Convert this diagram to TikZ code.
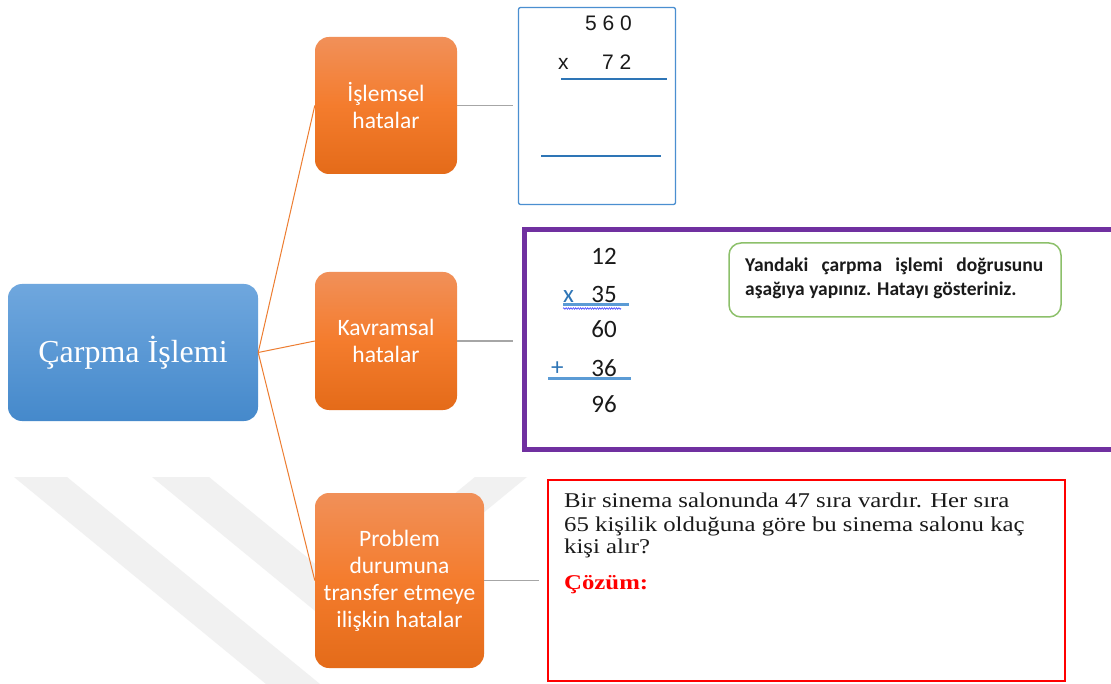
\documentclass[tikz,border=0pt]{standalone}
\usepackage{fontspec}
\setmainfont{Liberation Serif}
\newfontfamily\calibri{Carlito}
\newfontfamily\arialf{Liberation Sans}
\newfontfamily\timesw[FakeStretch=1.18]{Liberation Serif}
\usetikzlibrary{decorations.pathmorphing}

\definecolor{orTop}{HTML}{F19059}
\definecolor{orMid}{HTML}{F47C2D}
\definecolor{orBot}{HTML}{E46B19}
\definecolor{blTop}{HTML}{6FA7DE}
\definecolor{blBot}{HTML}{4589CB}
\definecolor{link}{HTML}{ED7D31}
\definecolor{grayline}{HTML}{A6A6A6}
\definecolor{frameblue}{HTML}{4A8FD0}
\definecolor{rulecol}{HTML}{2E75B6}
\definecolor{ulcol}{HTML}{5B9BD5}
\definecolor{purp}{HTML}{7030A0}
\definecolor{grn}{HTML}{8CC06A}
\definecolor{wm}{HTML}{F1F1F1}
\definecolor{ink}{HTML}{1A1A1A}

\tikzset{
  rootbox/.style={rounded corners=14pt, top color=blTop, bottom color=blBot,
    minimum width=250pt, minimum height=137pt, text=white,
    font=\fontsize{32}{38}\selectfont},
  catbox/.style={rounded corners=14pt, top color=orTop, bottom color=orBot,
    middle color=orMid, text=white, align=center, inner sep=0pt,
    font=\calibri\fontsize{23.5}{27}\selectfont},
  branch/.style={link, line width=1pt},
  leader/.style={grayline, line width=1.1pt},
  frame/.style={inner sep=0pt},
  digA/.style={font=\arialf\fontsize{21}{25}\selectfont, text=ink, inner sep=0pt},
  digC/.style={font=\calibri\fontsize{25}{30}\selectfont, text=ink, inner sep=0pt},
  opC/.style={font=\calibri\fontsize{25}{30}\selectfont, text=rulecol, inner sep=0pt},
  noteC/.style={font=\calibri\bfseries\fontsize{19.5}{24}\selectfont, text=ink, inner sep=0pt},
  probT/.style={font=\timesw\fontsize{21}{23}\selectfont, text=ink, inner sep=0pt},
}

\begin{document}
\begin{tikzpicture}[x=1pt, y=-1pt]
\useasboundingbox (0,0) rectangle (1111,684);
\fill[white] (0,0) rectangle (1111,684);

% faint background chevrons
\fill[wm] (14,477) -- (67,477) -- (320,684) -- (266,684) -- cycle;
\fill[wm] (152,477) -- (209,477) -- (342,586) -- (475,477) -- (527,477) -- (339.5,631) -- cycle;

% root and category boxes
\node[rootbox] (root) at (133,352.5) {Çarpma İşlemi};
\node[catbox, minimum width=142pt, minimum height=137pt] (c1) at (386,105.5) {İşlemsel\\hatalar};
\node[catbox, minimum width=142pt, minimum height=138pt] (c2) at (386,341) {Kavramsal\\hatalar};
\node[catbox, minimum width=169pt, minimum height=175pt] (c3) at (399.5,580.5) {Problem\\durumuna\\transfer etmeye\\ilişkin hatalar};

\draw[branch] (root.east) -- (c1.west);
\draw[branch] (root.east) -- (c2.west);
\draw[branch] (root.east) -- (c3.west);

% example frames
\node[frame, draw=frameblue, line width=1.3pt, rounded corners=2pt,
      minimum width=157pt, minimum height=197pt] (ex1) at (597,106) {};
\node[frame, draw=purp, line width=5pt,
      minimum width=615.5pt, minimum height=220pt] (ex2) at (832.25,339.5) {};
\node[frame, draw=red, line width=2.2pt,
      minimum width=517pt, minimum height=201pt] (ex3) at (806.5,580.5) {};

\draw[leader, shorten >=5pt] (c1.east) -- (c1.east -| ex1.west);
\draw[leader, shorten >=9pt] (c2.east) -- (c2.east -| ex2.west);
\draw[leader, shorten >=8pt] (c3.east) -- (c3.east -| ex3.west);

% first example: 560 x 72
\node[digA, anchor=base west] (a1) at (585,31) {5 6 0};
\node[digA, anchor=base west] (a2) at (558,70) {x};
\node[digA, anchor=base west] (a3) at (602,70) {7 2};
\coordinate (r1a) at (561,79);
\coordinate (r1b) at (667,79);
\coordinate (r2a) at (541,156);
\coordinate (r2b) at (661,156);
\draw[rulecol, line width=2pt] (r1a) -- (r1b);
\draw[rulecol, line width=2pt] (r2a) -- (r2b);

% second example: 12 x 35
\node[digC, anchor=base east] (b1) at (617,265) {12};
\node[opC, anchor=base west] (b2) at (563,303) {x};
\node[digC, anchor=base east] (b3) at (617,303) {35};
\node[digC, anchor=base east] (b4) at (617,338) {60};
\node[opC, anchor=base west] (b5) at (551,376) {+};
\node[digC, anchor=base east] (b6) at (617,377) {36};
\node[digC, anchor=base east] (b7) at (617,413) {96};
\coordinate (u1a) at (563,305);
\coordinate (u1b) at (629,305);
\coordinate (u2a) at (548,379);
\coordinate (u2b) at (631,379);
\coordinate (w1a) at (563,308.5);
\coordinate (w1b) at (621,308.5);
\draw[ulcol, line width=3pt] (u1a) -- (u1b);
\draw[ulcol, line width=3pt] (u2a) -- (u2b);
\draw[blue!75!white, line width=0.6pt, decorate,
      decoration={snake, amplitude=0.8pt, segment length=2.4pt}] (w1a) -- (w1b);

\node[frame, draw=grn, line width=1.5pt, rounded corners=12pt,
      minimum width=332pt, minimum height=74pt] (note) at (895,280) {};
\node[noteC, anchor=base west] (n1) at (745,272)
  {\hbox to 298pt{Yandaki\hfill çarpma\hfill işlemi\hfill doğrusunu}};
\node[noteC, anchor=base west] (n2) at (745,296) {aşağıya yapınız. Hatayı gösteriniz.};

% third example: word problem
\node[probT, anchor=base west] (p1) at (564,507) {Bir sinema salonunda 47 sıra vardır. Her sıra};
\node[probT, anchor=base west] (p2) at (564,531) {65 kişilik olduğuna göre bu sinema salonu kaç};
\node[probT, anchor=base west] (p3) at (564,553) {kişi alır?};
\node[probT, anchor=base west, text=red, font=\timesw\bfseries\fontsize{21}{23}\selectfont] (p4) at (564,589) {Çözüm:};
\end{tikzpicture}
\end{document}
